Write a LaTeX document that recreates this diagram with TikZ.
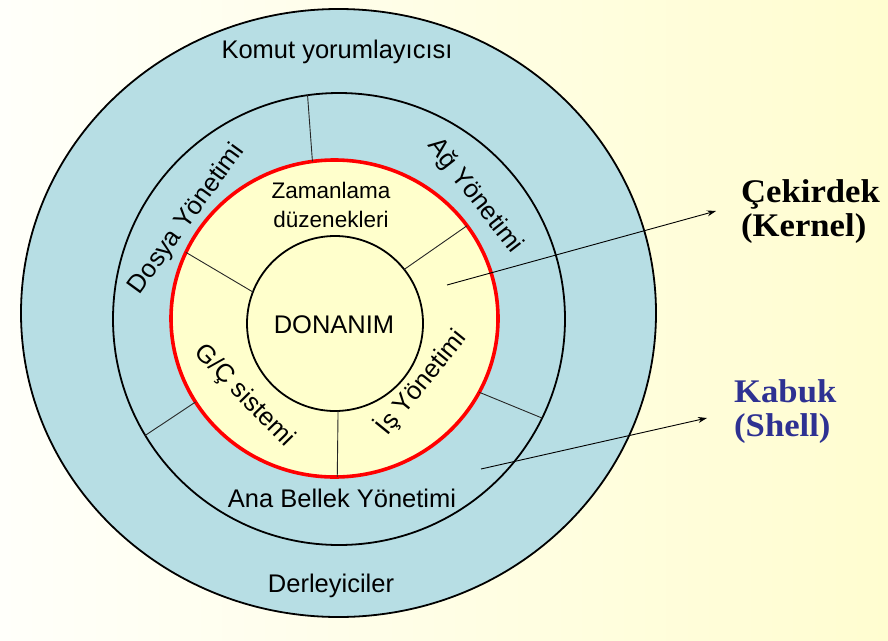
\documentclass[tikz,border=0pt]{standalone}
\usepackage{fontspec}
\setmainfont{Liberation Sans}
\newfontfamily\serifb[FakeStretch=1.05]{Liberation Serif}
\usetikzlibrary{shapes.geometric,arrows.meta}
\definecolor{ringblue}{RGB}{183,222,228}
\definecolor{coreyel}{RGB}{255,255,204}
\definecolor{shellblue}{RGB}{46,49,146}
\definecolor{bgleft}{RGB}{255,255,250}
\definecolor{bgright}{RGB}{255,253,208}
\tikzset{
  ring/.style={ellipse, draw=black, line width=1.8pt, fill=ringblue, inner sep=0pt, outer sep=0pt},
  core/.style={ellipse, fill=coreyel, inner sep=0pt, outer sep=0pt},
  divider/.style={draw=black!85, line width=0.9pt},
  lbl/.style={inner sep=0pt, font=\fontsize{25.5}{29}\selectfont},
  smalllbl/.style={inner sep=0pt, font=\fontsize{22.5}{29}\selectfont, align=center},
  biglbl/.style={inner sep=0pt, anchor=west, align=left, font=\serifb\bfseries\fontsize{33}{34}\selectfont},
  pointer/.style={draw=black, line width=0.9pt, -{Stealth[length=9pt,width=6pt]}}
}
\begin{document}
\begin{tikzpicture}[x=1pt,y=-1pt]
\useasboundingbox (0,0) rectangle (888,640);
\shade[left color=bgleft, right color=bgright] (0,0) rectangle (888,640);

% rings
\node[ring, minimum width=635pt, minimum height=608pt] (shell) at (338.5,313) {};
\node[ring, minimum width=452pt, minimum height=452pt] (mid) at (339,319) {};
\node[core, draw=red, line width=3.6pt, minimum width=327pt, minimum height=317pt] (kernel) at (334.5,318.5) {};
\node[core, draw=black, line width=1.8pt, minimum width=176pt, minimum height=175pt] (hw) at (335,323.5) {};

% dividers
\draw[divider] (mid.98) -- (kernel.98);
\draw[divider] (kernel.156) -- (hw.159);
\draw[divider] (kernel.35) -- (hw.38);
\draw[divider] (mid.211) -- (kernel.211);
\draw[divider] (hw.272) -- (kernel.271);
\draw[divider] (kernel.333) -- (mid.334);

% labels
\node[lbl, anchor=base] (komut) at (337,58) {Komut yorumlayıcısı};
\node[lbl, anchor=base] (derl) at (331,592) {Derleyiciler};
\node[lbl, anchor=base] (anabellek) at (342,507) {Ana Bellek Yönetimi};
\node[lbl, anchor=base] (donanim) at (334,333) {DONANIM};
\node[smalllbl] (zaman) at (331,205) {Zamanlama\\düzenekleri};
\node[lbl, rotate=54] (dosya) at (187,219) {Dosya Yönetimi};
\node[lbl, rotate=-52] (ag) at (475,196) {Ağ Yönetimi};
\node[lbl, rotate=-45.5] (gc) at (244,396) {G/Ç sistemi};
\node[lbl, rotate=51] (is) at (421,382) {İş Yönetimi};

\node[biglbl] (cek) at (741,212) {Çekirdek\\(Kernel)};
\node[biglbl, text=shellblue] (kab) at (734,412) {Kabuk\\(Shell)};

% arrows
\coordinate (kin) at (447,285);
\coordinate (kout) at (716,211);
\coordinate (sin) at (481,469);
\coordinate (sout) at (707,418);
\draw[pointer] (kin) -- (kout);
\draw[pointer] (sin) -- (sout);
\end{tikzpicture}
\end{document}
